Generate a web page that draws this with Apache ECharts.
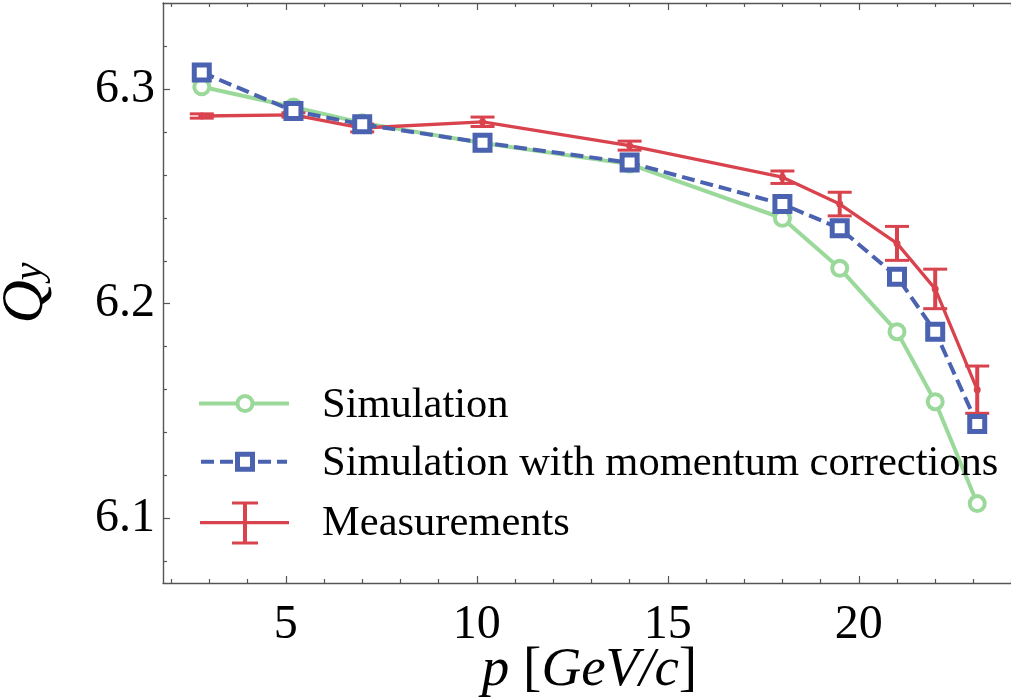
<!DOCTYPE html>
<html>
<head>
<meta charset="utf-8">
<title>Vertical tune vs momentum</title>
<script src="https://cdn.jsdelivr.net/npm/echarts@6/dist/echarts.min.js"></script>
<style>
  html, body { margin: 0; padding: 0; background: #ffffff; }
  #chart { width: 1011px; height: 700px; }
</style>
</head>
<body>
<div id="chart"></div>
<script>
// Beam momentum p [GeV/c] at each measured point
const momentum = [2.8, 5.2, 7.0, 10.15, 14.0, 18.0, 19.5, 21.0, 22.0, 23.1];
// Simulated vertical tune Q_y
const simulation = [6.3010, 6.2916, 6.2842, 6.2748, 6.2650, 6.2398, 6.2165, 6.1870, 6.1544, 6.1070];
// Simulated Q_y including momentum corrections
const simulationCorrected = [6.3077, 6.2897, 6.2835, 6.2750, 6.2657, 6.2464, 6.2351, 6.2126, 6.1870, 6.1440];
// Measured Q_y and its uncertainty
const measured = [6.2874, 6.2879, 6.2818, 6.2847, 6.2736, 6.2589, 6.2464, 6.2281, 6.2069, 6.1600];
const measuredErr = [0.0010, 0.0010, 0.0018, 0.0022, 0.0021, 0.0029, 0.0055, 0.0079, 0.0092, 0.0110];

// Axis ticks
const xMajorTicks = [5, 10, 15, 20];
const xMinorTicks = [2, 3, 4, 6, 7, 8, 9, 11, 12, 13, 14, 16, 17, 18, 19, 21, 22, 23, 24];
const yMajorTicks = [6.1, 6.2, 6.3];
const yMinorTicks = [6.08, 6.12, 6.14, 6.16, 6.18, 6.22, 6.24, 6.26, 6.28, 6.32];

const legendNames = ['Simulation', 'Simulation with momentum corrections', 'Measurements'];

const X_MIN = 1.785, X_MAX = 24.115;
const Y_MIN = 6.07, Y_MAX = 6.34;

const GREEN = '#9bd99b';
const BLUE = '#4a62b0';
const RED = '#d9434e';
const SPINE = '#555555';
const SERIF = '"Liberation Serif", "DejaVu Serif", serif';

const gridBox = { left: 163, right: -5, top: 3, bottom: 117, containLabel: false, outerBoundsMode: 'none' };

function axisBase(extra) {
  return Object.assign({
    type: 'value',
    splitLine: { show: false },
    axisLine: { show: false },
    axisLabel: { show: false },
    axisTick: { show: false }
  }, extra);
}

function tickSet(values, length) {
  return { show: true, inside: true, length: length, customValues: values,
           lineStyle: { color: SPINE, width: 1.2 } };
}

const spineLine = { show: true, onZero: false, lineStyle: { color: SPINE, width: 1.4 } };

const chart = echarts.init(document.getElementById('chart'), null, { renderer: 'canvas' });

const errorData = momentum.map((x, i) => [x, measured[i], measuredErr[i]]);

chart.setOption({
  animation: false,
  backgroundColor: '#ffffff',
  grid: [
    Object.assign({}, gridBox),
    Object.assign({}, gridBox)
  ],
  xAxis: [
    axisBase({
      gridIndex: 0, position: 'bottom', min: X_MIN, max: X_MAX,
      axisLine: spineLine,
      axisTick: tickSet(xMajorTicks, 7),
      axisLabel: { show: true, customValues: xMajorTicks, margin: 18,
                   fontFamily: SERIF, fontSize: 48, color: '#000' },
      name: '{i|p} [{i|GeV/c}]',
      nameLocation: 'middle',
      nameGap: 60,
      nameMoveOverlap: false,
      nameTextStyle: {
        fontFamily: SERIF, fontSize: 55, color: '#000',
        rich: { i: { fontFamily: SERIF, fontSize: 55, fontStyle: 'italic', color: '#000' } }
      }
    }),
    axisBase({
      gridIndex: 0, position: 'top', min: X_MIN, max: X_MAX,
      axisLine: spineLine,
      axisTick: tickSet(xMajorTicks, 7)
    }),
    axisBase({
      gridIndex: 1, position: 'bottom', min: X_MIN, max: X_MAX,
      axisTick: tickSet(xMinorTicks, 4)
    }),
    axisBase({
      gridIndex: 1, position: 'top', min: X_MIN, max: X_MAX,
      axisTick: tickSet(xMinorTicks, 4)
    })
  ],
  yAxis: [
    axisBase({
      gridIndex: 0, position: 'left', min: Y_MIN, max: Y_MAX,
      axisLine: spineLine,
      axisTick: tickSet(yMajorTicks, 7),
      axisLabel: { show: true, customValues: yMajorTicks, margin: 8,
                   fontFamily: SERIF, fontSize: 48, color: '#000',
                   formatter: v => v.toFixed(1) },
      name: '{q|Q}{s|y}',
      nameLocation: 'middle',
      nameRotate: 90,
      nameGap: 98,
      nameTextStyle: {
        color: '#000',
        rich: {
          q: { fontFamily: SERIF, fontSize: 60, fontStyle: 'italic', color: '#000', padding: [0, 0, 9, 0] },
          s: { fontFamily: SERIF, fontSize: 40, fontStyle: 'italic', color: '#000' }
        }
      }
    }),
    axisBase({
      gridIndex: 1, position: 'left', min: Y_MIN, max: Y_MAX,
      axisTick: tickSet(yMinorTicks, 4)
    })
  ],
  series: [
    {
      name: legendNames[0],
      type: 'line',
      xAxisIndex: 0, yAxisIndex: 0,
      data: momentum.map((x, i) => [x, simulation[i]]),
      symbol: 'circle', symbolSize: 15, showAllSymbol: true,
      lineStyle: { color: GREEN, width: 4 },
      itemStyle: { color: '#ffffff', borderColor: GREEN, borderWidth: 4 },
      z: 2
    },
    {
      name: legendNames[2],
      type: 'line',
      xAxisIndex: 0, yAxisIndex: 0,
      data: momentum.map((x, i) => [x, measured[i]]),
      symbol: 'none',
      lineStyle: { color: RED, width: 3.3 },
      z: 3
    },
    {
      name: legendNames[2] + ' errors',
      type: 'custom',
      xAxisIndex: 0, yAxisIndex: 0,
      data: errorData,
      encode: { x: 0, y: 1 },
      z: 3,
      renderItem: function (params, api) {
        const x = api.value(0), y = api.value(1), e = api.value(2);
        const hi = api.coord([x, y + e]);
        const lo = api.coord([x, y - e]);
        const c = api.coord([x, y]);
        const cap = 12;
        return {
          type: 'group',
          children: [
            { type: 'line', shape: { x1: hi[0], y1: hi[1], x2: lo[0], y2: lo[1] },
              style: { stroke: RED, lineWidth: 4 } },
            { type: 'line', shape: { x1: hi[0] - cap, y1: hi[1], x2: hi[0] + cap, y2: hi[1] },
              style: { stroke: RED, lineWidth: 3 } },
            { type: 'line', shape: { x1: lo[0] - cap, y1: lo[1], x2: lo[0] + cap, y2: lo[1] },
              style: { stroke: RED, lineWidth: 3 } },
            { type: 'circle', shape: { cx: c[0], cy: c[1], r: 3.5 },
              style: { fill: RED } }
          ]
        };
      }
    },
    {
      name: legendNames[1],
      type: 'line',
      xAxisIndex: 0, yAxisIndex: 0,
      data: momentum.map((x, i) => [x, simulationCorrected[i]]),
      symbol: 'rect', symbolSize: 15, showAllSymbol: true,
      lineStyle: { color: BLUE, width: 4, type: [13, 6] },
      itemStyle: { color: '#ffffff', borderColor: BLUE, borderWidth: 5 },
      z: 4
    }
  ],
  graphic: [
    // legend: Simulation
    { type: 'line', shape: { x1: 199, y1: 403.5, x2: 289, y2: 403.5 },
      style: { stroke: GREEN, lineWidth: 4 }, z: 10 },
    { type: 'circle', shape: { cx: 245, cy: 403.5, r: 7.5 },
      style: { fill: '#ffffff', stroke: GREEN, lineWidth: 4 }, z: 11 },
    { type: 'text', x: 322, y: 406, z: 11,
      style: { text: legendNames[0], fontFamily: SERIF, fontSize: 42.5, fill: '#000', verticalAlign: 'middle' } },
    // legend: Simulation with momentum corrections
    { type: 'line', shape: { x1: 201, y1: 461.7, x2: 287, y2: 461.7 },
      style: { stroke: BLUE, lineWidth: 4, lineDash: [13, 6] }, z: 10 },
    { type: 'rect', shape: { x: 237.5, y: 454.2, width: 15, height: 15 },
      style: { fill: '#ffffff', stroke: BLUE, lineWidth: 5 }, z: 11 },
    { type: 'text', x: 322, y: 464, z: 11,
      style: { text: legendNames[1], fontFamily: SERIF, fontSize: 42.5, fill: '#000', verticalAlign: 'middle' } },
    // legend: Measurements
    { type: 'line', shape: { x1: 200, y1: 522.7, x2: 289, y2: 522.7 },
      style: { stroke: RED, lineWidth: 3.3 }, z: 10 },
    { type: 'line', shape: { x1: 245, y1: 503, x2: 245, y2: 543 },
      style: { stroke: RED, lineWidth: 4 }, z: 10 },
    { type: 'line', shape: { x1: 232, y1: 503, x2: 258, y2: 503 },
      style: { stroke: RED, lineWidth: 3 }, z: 10 },
    { type: 'line', shape: { x1: 232, y1: 543, x2: 258, y2: 543 },
      style: { stroke: RED, lineWidth: 3 }, z: 10 },
    { type: 'text', x: 322, y: 524, z: 11,
      style: { text: legendNames[2], fontFamily: SERIF, fontSize: 42.5, fill: '#000', verticalAlign: 'middle' } }
  ]
});
</script>
</body>
</html>
